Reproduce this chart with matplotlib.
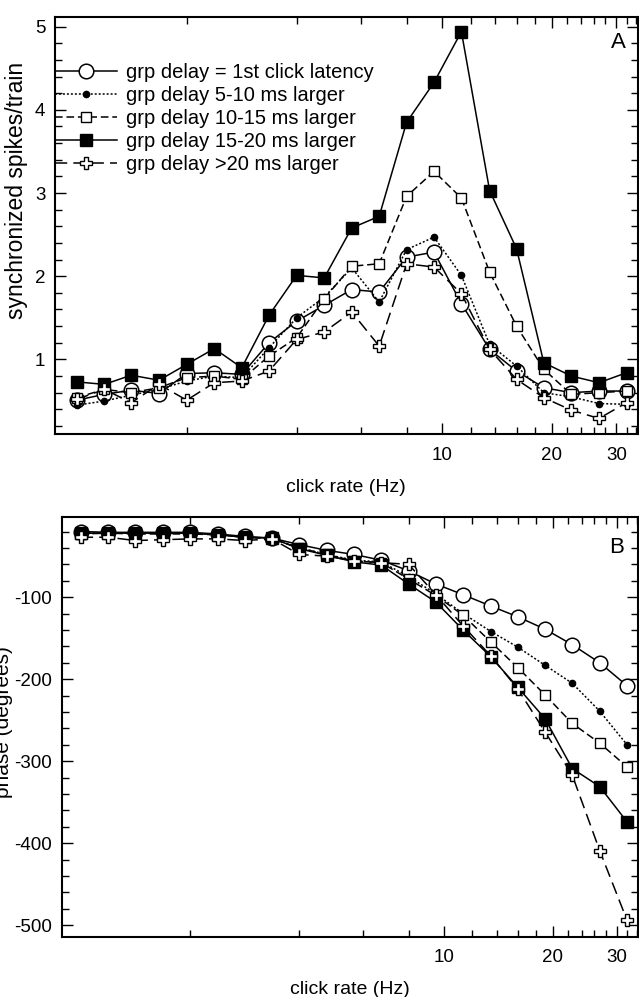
import matplotlib
matplotlib.use('Agg')
import matplotlib.pyplot as plt
from matplotlib.ticker import FixedLocator, FixedFormatter, NullFormatter, MultipleLocator

plt.rcParams['font.family'] = ['Liberation Sans', 'DejaVu Sans']
plt.rcParams['axes.unicode_minus'] = False

# click rates, quarter-octave steps
rate_hz = [1.0, 1.19, 1.41, 1.68, 2.0, 2.38, 2.83, 3.36, 4.0, 4.76, 5.66,
           6.73, 8.0, 9.51, 11.3, 13.5, 16.0, 19.0, 22.6, 26.9, 32.0]

series_names = ['grp delay = 1st click latency', 'grp delay 5-10 ms larger',
                'grp delay 10-15 ms larger', 'grp delay 15-20 ms larger',
                'grp delay >20 ms larger']

# panel A: synchronized spikes per train
sync_lat = [0.51, 0.58, 0.63, 0.59, 0.83, 0.84, 0.82, 1.2, 1.46, 1.65, 1.84,
            1.81, 2.23, 2.29, 1.67, 1.12, 0.86, 0.66, 0.6, 0.62, 0.62]
sync_5_10 = [0.45, 0.5, 0.57, 0.64, 0.74, 0.8, 0.78, 1.14, 1.5, 1.75, 2.1,
             1.69, 2.32, 2.47, 2.01, 1.18, 0.92, 0.6, 0.55, 0.47, 0.46]
sync_10_15 = [0.54, 0.64, 0.6, 0.66, 0.78, 0.8, 0.76, 1.04, 1.26, 1.73, 2.12,
              2.15, 2.96, 3.26, 2.94, 2.05, 1.4, 0.88, 0.58, 0.6, 0.62]
sync_15_20 = [0.73, 0.7, 0.81, 0.75, 0.94, 1.13, 0.9, 1.53, 2.01, 1.98, 2.58,
              2.72, 3.85, 4.33, 4.94, 3.03, 2.33, 0.96, 0.8, 0.72, 0.84]
sync_gt20 = [0.52, 0.64, 0.48, 0.7, 0.51, 0.72, 0.74, 0.86, 1.24, 1.33, 1.57,
             1.16, 2.15, 2.11, 1.79, 1.12, 0.76, 0.54, 0.39, 0.29, 0.48]

# panel B: phase in degrees
phase_lat = [-20, -21, -21, -21, -21, -23, -26, -28, -36, -43, -48,
             -55, -68, -84, -97, -111, -124, -139, -158, -180, -208]
phase_5_10 = [-22, -22, -22, -22, -22, -24, -27, -28, -40, -48, -55,
              -57, -75, -96, -120, -142, -161, -183, -205, -239, -280]
phase_10_15 = [-23, -22, -23, -23, -23, -24, -27, -29, -40, -48, -56,
               -58, -78, -98, -122, -155, -186, -219, -254, -278, -307]
phase_15_20 = [-22, -22, -22, -22, -22, -24, -27, -28, -41, -49, -57,
               -61, -84, -106, -140, -173, -210, -248, -309, -331, -374]
phase_gt20 = [-27, -27, -31, -30, -29, -29, -31, -29, -48, -50, -56,
              -58, -60, -97, -135, -172, -212, -264, -317, -409, -494]

styles = [
    dict(ls='-', marker='o', ms=10.5, mfc='white', mec='black', mew=1.1, lw=1.1),
    dict(ls=(0, (1.3, 1.3)), marker='o', ms=4.5, mfc='black', mec='black', lw=1.1),
    dict(ls=(0, (5, 2.5)), marker='s', ms=7, mfc='white', mec='black', mew=1.0, lw=1.1),
    dict(ls='-', marker='s', ms=8, mfc='black', mec='black', lw=1.1),
    dict(ls=(0, (8, 4)), marker='P', ms=8.5, mfc='white', mec='black', mew=1.0, lw=1.1),
]

fig = plt.figure(figsize=(6.39, 9.97), dpi=100)
axA = fig.add_axes([0.0861, 0.5644, 0.9116, 0.4189])
axB = fig.add_axes([0.0970, 0.0605, 0.9007, 0.4212])


def style_xaxis(ax):
    ax.set_xscale('log')
    ax.xaxis.set_major_locator(FixedLocator([10, 20, 30]))
    ax.xaxis.set_major_formatter(FixedFormatter(['10', '20', '30']))
    ax.xaxis.set_minor_locator(FixedLocator([2, 4, 6, 8, 12, 14, 16, 18, 22, 24,
                                             26, 28, 32, 34]))
    ax.xaxis.set_minor_formatter(NullFormatter())
    ax.tick_params(which='both', direction='in', top=True, right=True,
                   width=1.0, labelsize=13.5, pad=7)
    ax.tick_params(axis='x', pad=9)
    ax.tick_params(which='major', length=8)
    ax.tick_params(which='minor', length=5)
    for sp in ax.spines.values():
        sp.set_linewidth(1.5)
    ax.set_xlabel('click rate (Hz)', fontsize=14, labelpad=11)


sync_data = [sync_lat, sync_5_10, sync_10_15, sync_15_20, sync_gt20]
for vals, st, name in zip(sync_data, styles, series_names):
    axA.plot(rate_hz, vals, color='black', label=name, **st)
style_xaxis(axA)
axA.set_xlim(0.872, 34.3)
axA.set_ylim(0.1, 5.12)
axA.yaxis.set_major_locator(MultipleLocator(1))
axA.yaxis.set_minor_locator(MultipleLocator(0.2))
axA.set_ylabel('synchronized spikes/train', fontsize=16.5)
axA.yaxis.set_label_coords(-0.047, 0.585)
axA.text(0.968, 0.938, 'A', transform=axA.transAxes, fontsize=16,
         ha='center', va='center')
axA.legend(loc='upper left', bbox_to_anchor=(0.0, 0.889), frameon=False,
           fontsize=14.5, handlelength=3.1, handletextpad=0.4, labelspacing=0.2,
           borderpad=0, borderaxespad=0, numpoints=1)

phase_data = [phase_lat, phase_5_10, phase_10_15, phase_15_20, phase_gt20]
for vals, st in zip(phase_data, styles):
    axB.plot(rate_hz, vals, color='black', **st)
style_xaxis(axB)
axB.set_xlim(0.887, 34.2)
axB.set_ylim(-514, -2)
axB.yaxis.set_major_locator(MultipleLocator(100))
axB.yaxis.set_minor_locator(MultipleLocator(20))
axB.set_ylabel('phase (degrees)', fontsize=15)
axB.yaxis.set_label_coords(-0.085, 0.51)
axB.text(0.9635, 0.927, 'B', transform=axB.transAxes, fontsize=16,
         ha='center', va='center')

fig.savefig('out.png', dpi=100)
